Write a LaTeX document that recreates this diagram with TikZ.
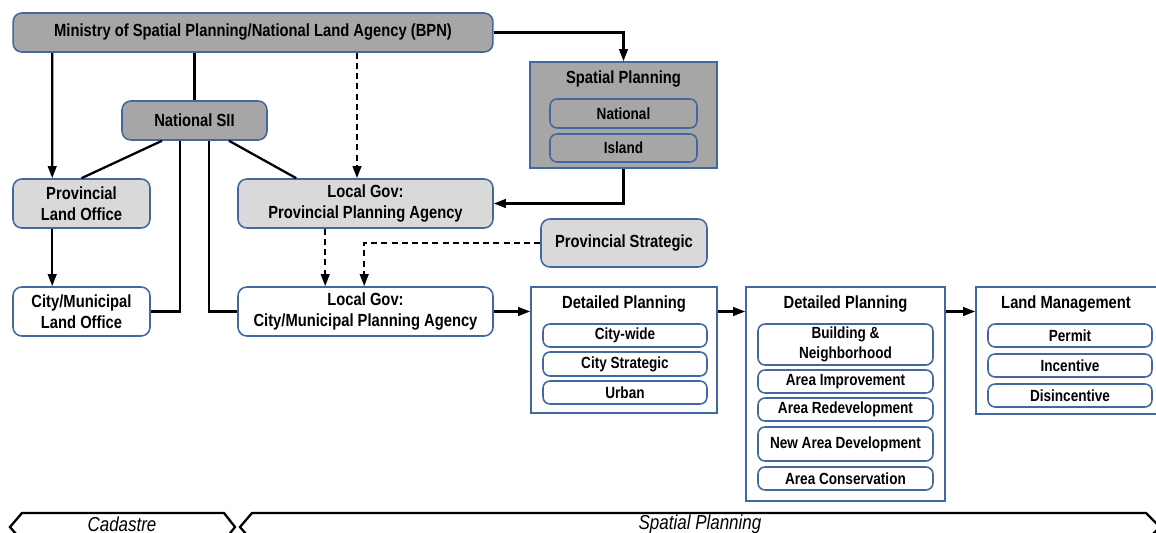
\documentclass[tikz,border=0pt]{standalone}
\usepackage{fontspec}
\setmainfont{Liberation Sans}[FakeStretch=0.84]
\usepackage{tikz}
\usetikzlibrary{shapes.geometric, arrows.meta, positioning}
\definecolor{frame}{RGB}{65,105,160}
\definecolor{darkfill}{RGB}{166,166,166}
\definecolor{lightfill}{RGB}{217,217,217}
\tikzstyle{box} = [rectangle, rounded corners=5pt, draw=frame, line width=0.9pt, text centered, align=center, inner sep=0pt, font=\bfseries]
\tikzstyle{darkbox} = [box, fill=darkfill]
\tikzstyle{lightbox} = [box, fill=lightfill]
\tikzstyle{whitebox} = [box, fill=white]
\tikzstyle{group} = [rectangle, draw=frame, line width=0.9pt, inner sep=0pt]
\tikzstyle{item} = [box, rounded corners=4pt, minimum width=3.28cm, minimum height=0.46cm, font=\fontsize{9.2}{11.5}\selectfont\bfseries]
\tikzstyle{title} = [font=\bfseries, inner sep=0pt]
\tikzstyle{link} = [line width=1.3pt]
\tikzstyle{arrow} = [link, ->, >={Triangle[length=2.4mm,width=1.7mm]}]
\tikzstyle{dasharrow} = [arrow, dash pattern=on 3.4pt off 2.4pt]
\tikzstyle{phase} = [line width=1.3pt]
\tikzstyle{phasetext} = [font=\fontsize{11.5}{13}\selectfont\itshape, inner sep=0pt]

\begin{document}
\begin{tikzpicture}[x=0.02cm, y=-0.02cm]
	\useasboundingbox (0,0) rectangle (1156,533);
	\clip (0,0) rectangle (1156,533);
	% left part
	\node (ministry) [darkbox, minimum width=9.6cm, minimum height=0.78cm] at (253,32.5) {Ministry of Spatial Planning/National Land Agency (BPN)};
	\node (sii) [darkbox, minimum width=2.9cm, minimum height=0.78cm] at (194.5,120.5) {National SII};
	\node (provland) [lightbox, minimum width=2.74cm, minimum height=0.98cm] at (81.5,203.5) {Provincial\\Land Office};
	\node (cityland) [whitebox, minimum width=2.74cm, minimum height=0.98cm] at (81.5,311.5) {City/Municipal\\Land Office};
	\node (localprov) [lightbox, minimum width=5.1cm, minimum height=0.98cm] at (365.5,203.5) {Local Gov:\\Provincial Planning Agency};
	\node (localcity) [whitebox, minimum width=5.1cm, minimum height=0.98cm] at (365.5,311.5) {Local Gov:\\City/Municipal Planning Agency};

	% spatial planning
	\node (spatial) [group, fill=darkfill, minimum width=3.74cm, minimum height=2.12cm] at (623.5,115) {};
	\node (sptitle) [title] at (623.5,79) {Spatial Planning};
	\node (national) [item, fill=darkfill, minimum width=2.94cm, minimum height=0.58cm] at (623.5,113.5) {National};
	\node (island) [item, fill=darkfill, minimum width=2.94cm, minimum height=0.56cm] at (623.5,148) {Island};
	\node (provstrat) [lightbox, minimum width=3.32cm, minimum height=0.96cm] at (624,243) {Provincial Strategic};

	% detailed planning
	\node (dp1) [group, fill=white, minimum width=3.72cm, minimum height=2.52cm] at (624,350) {};
	\node (dp1title) [title] at (624,304) {Detailed Planning};
	\node (citywide) [item, fill=white] at (625,335.5) {City-wide};
	\node (citystrat) [item, fill=white, minimum height=0.48cm] at (625,364) {City Strategic};
	\node (urban) [item, fill=white] at (625,392.5) {Urban};

	\node (dp2) [group, fill=white, minimum width=3.98cm, minimum height=4.28cm] at (845.5,394) {};
	\node (dp2title) [title] at (845.5,304) {Detailed Planning};
	\node (building) [item, fill=white, minimum width=3.5cm, minimum height=0.82cm] at (845.5,344.5) {Building \&\\Neighborhood};
	\node (improve) [item, fill=white, minimum width=3.5cm] at (845.5,381.5) {Area Improvement};
	\node (redevelop) [item, fill=white, minimum width=3.5cm] at (845.5,409.5) {Area Redevelopment};
	\node (newarea) [item, fill=white, minimum width=3.5cm, minimum height=0.68cm] at (845.5,444) {New Area Development};
	\node (conserve) [item, fill=white, minimum width=3.5cm] at (845.5,478.5) {Area Conservation};

	% land management
	\node (land) [group, fill=white, minimum width=3.76cm, minimum height=2.54cm] at (1070,350.5) {};
	\node (landtitle) [title] at (1066,304) {Land Management};
	\node (permit) [item, fill=white] at (1070,335.5) {Permit};
	\node (incentive) [item, fill=white] at (1070,365.5) {Incentive};
	\node (disincentive) [item, fill=white] at (1070,395.5) {Disincentive};

	% connectors
	\draw [arrow]([xshift=0.8cm]ministry.south west) -- ([xshift=0.8cm]provland.north west);
	\draw [link](sii.north |- ministry.south) -- (sii.north);
	\draw [dasharrow]([xshift=-0.17cm]localprov.north |- ministry.south) -- ([xshift=-0.17cm]localprov.north);
	\draw [arrow](ministry.east) -| (spatial.north);
	\draw [link]([xshift=-0.65cm]sii.south) -- (provland.north);
	\draw [link]([xshift=0.69cm]sii.south) -- ([xshift=1.18cm]localprov.north west);
	\draw [link]([xshift=-0.29cm]sii.south) |- (cityland.east);
	\draw [link]([xshift=0.29cm]sii.south) |- (localcity.west);
	\draw [arrow]([xshift=0.8cm]provland.south west) -- ([xshift=0.8cm]cityland.north west);
	\draw [arrow](spatial.south) |- (localprov.east);
	\draw [dasharrow]([xshift=1.76cm]localprov.south west) -- ([xshift=1.76cm]localcity.north west);
	\draw [dasharrow](provstrat.west) -| ([xshift=2.54cm]localcity.north west);
	\draw [arrow](localcity.east) -- (localcity.east -| dp1.west);
	\draw [arrow](localcity.east -| dp1.east) -- (localcity.east -| dp2.west);
	\draw [arrow](localcity.east -| dp2.east) -- (localcity.east -| land.west);

	% phases
	\draw [phase] (10,527) -- (22,513) -- (224,513) -- (235,527) -- (224,541) -- (22,541) -- cycle;
	\node (cadastre) [phasetext] at (122,524) {Cadastre};
	\draw [phase] (240,527) -- (252,513) -- (1146,513) -- (1160,527) -- (1146,541) -- (252,541) -- cycle;
	\node (spphase) [phasetext] at (700,524) {Spatial Planning};
\end{tikzpicture}
\end{document}
